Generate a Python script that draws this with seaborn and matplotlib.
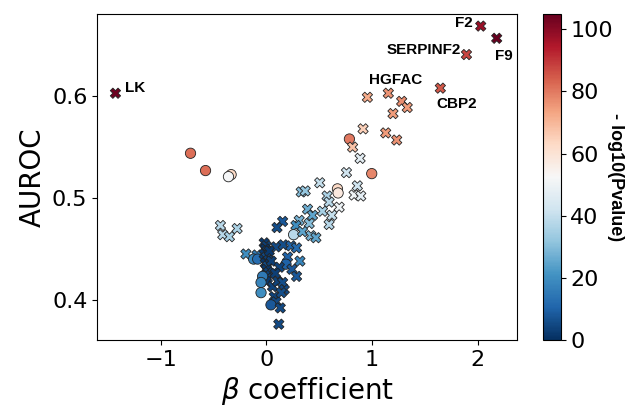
import matplotlib
matplotlib.use("Agg")
import matplotlib.pyplot as plt
import matplotlib.cm as cm
import matplotlib.colors as mcolors
import numpy as np
import pandas as pd
import seaborn as sns

# labelled proteins first, then the rest
names = ["LK", "F2", "F9", "SERPINF2", "CBP2", "HGFAC"]

beta = [-1.427, 2.028, 2.179, 1.893, 1.646, 1.154,
        0.956, 1.280, 1.333, 1.198, 0.915, 1.129, 1.233, 0.786, 0.816, 0.887,
        -0.717, -0.575, -0.333, -0.358,
        0.758, 0.997, 0.505, 0.673, 0.679, 0.861, 0.830, 0.893, 0.330, 0.368,
        0.575, 0.594, 0.689, 0.390, 0.437, 0.531, 0.620, 0.154, 0.101, 0.311,
        0.406, 0.280, 0.258, 0.342, 0.422, 0.469, 0.594,
        -0.434, -0.412, -0.349, -0.276,
        -0.193, -0.088, -0.120, -0.082,
        -0.02, 0.00, -0.01, 0.01, -0.02, 0.00, 0.02, -0.01, 0.01, 0.00, 0.02, -0.01, 0.01, 0.00,
        0.092, 0.160, 0.233, 0.286, 0.201, 0.318, 0.186, 0.242, 0.286, 0.059,
        0.107, 0.154, 0.170, 0.075, 0.092, -0.035, -0.050, -0.050, 0.044, 0.132,
        0.118, 0.047, 0.123, 0.085, 0.028, 0.142]

auroc = [0.603, 0.669, 0.657, 0.641, 0.608, 0.603,
         0.599, 0.595, 0.589, 0.583, 0.568, 0.564, 0.557, 0.558, 0.550, 0.539,
         0.544, 0.527, 0.523, 0.521,
         0.525, 0.524, 0.515, 0.509, 0.505, 0.512, 0.503, 0.502, 0.506, 0.507,
         0.502, 0.496, 0.491, 0.489, 0.483, 0.487, 0.483, 0.477, 0.471, 0.478,
         0.475, 0.473, 0.464, 0.467, 0.463, 0.461, 0.474,
         0.473, 0.464, 0.462, 0.470,
         0.445, 0.444, 0.440, 0.440,
         0.456, 0.453, 0.450, 0.448, 0.445, 0.442, 0.439, 0.436, 0.433, 0.430, 0.427, 0.424, 0.421, 0.418,
         0.452, 0.454, 0.453, 0.451, 0.442, 0.438, 0.435, 0.430, 0.423, 0.413,
         0.418, 0.417, 0.410, 0.403, 0.398, 0.423, 0.417, 0.407, 0.395, 0.392,
         0.376, 0.438, 0.432, 0.426, 0.448, 0.407]

logp = [104, 98, 105, 88, 85, 76,
        72, 77, 75, 75, 65, 75, 76, 80, 68, 47,
        82, 82, 63, 52,
        42, 78, 40, 63, 58, 42, 50, 47, 30, 32,
        36, 38, 50, 27, 25, 35, 40, 8, 6, 28,
        30, 20, 38, 25, 28, 25, 38,
        38, 38, 35, 36,
        20, 15, 18, 12,
        2, 3, 1, 4, 2, 5, 3, 1, 6, 2, 4, 3, 5, 2,
        5, 6, 10, 12, 10, 18, 10, 8, 8, 4,
        4, 6, 5, 4, 5, 15, 18, 20, 8, 5,
        5, 3, 4, 3, 2, 6]

# o = circle, X = cross, same row layout as above
shape = list("XXXXXX"
             "XXXXXXXoXX"
             "oooo"
             "XoXooXXXXX"
             "XXXXXXXXXX"
             "XXoXXXX"
             "XXXX"
             "XXoo"
             "XXXXXXXXXXXXXX"
             "XXXXXXoXXX"
             "XXXXXooooX"
             "XXXXXX")

df = pd.DataFrame({"beta": beta, "auroc": auroc, "logp": logp, "shape": shape})

sns.set_style("ticks")
plt.rcParams["font.family"] = ["DejaVu Sans"]
for key in ["text.color", "axes.labelcolor", "xtick.color", "ytick.color", "axes.edgecolor"]:
    plt.rcParams[key] = "black"

fig = plt.figure(figsize=(6.35, 4.08), dpi=100)
ax = fig.add_axes([0.153, 0.167, 0.661, 0.799])
cax = fig.add_axes([0.855, 0.167, 0.028, 0.799])

norm = mcolors.Normalize(vmin=0, vmax=105)
sns.scatterplot(data=df, x="beta", y="auroc", hue="logp", style="shape",
                markers={"o": "o", "X": "X"}, palette="RdBu_r",
                hue_norm=norm, s=55, edgecolor="#222222", linewidth=0.6,
                legend=False, ax=ax)

# gene labels
offsets = {"LK": (7, 4, "left"), "F2": (-6, 2, "right"), "F9": (-1, -13, "left"),
           "SERPINF2": (-4, 3, "right"), "CBP2": (-3, -11.5, "left"),
           "HGFAC": (5.5, 9.6, "center")}
for i, name in enumerate(names):
    dx, dy, ha = offsets[name]
    ax.annotate(name, (beta[i], auroc[i]), xytext=(dx, dy), textcoords="offset points",
                ha=ha, va="center", fontsize=11, fontweight="bold",
                family="Liberation Sans")

ax.set_xlim(-1.6, 2.37)
ax.set_ylim(0.3606, 0.681)
ax.set_xticks([-1, 0, 1, 2])
ax.set_yticks([0.4, 0.5, 0.6])
ax.tick_params(labelsize=16)
ax.set_xlabel(r"$\beta$ coefficient", fontsize=20)
ax.set_ylabel("AUROC", fontsize=20)

sm = cm.ScalarMappable(norm=norm, cmap="RdBu_r")
cb = fig.colorbar(sm, cax=cax)
cb.set_ticks([0, 20, 40, 60, 80, 100])
cb.ax.tick_params(labelsize=16)
cb.set_label("- log10(Pvalue)", rotation=270, labelpad=8, fontsize=13,
             fontweight="bold", family="Liberation Sans")

fig.savefig("out.png", dpi=100)
